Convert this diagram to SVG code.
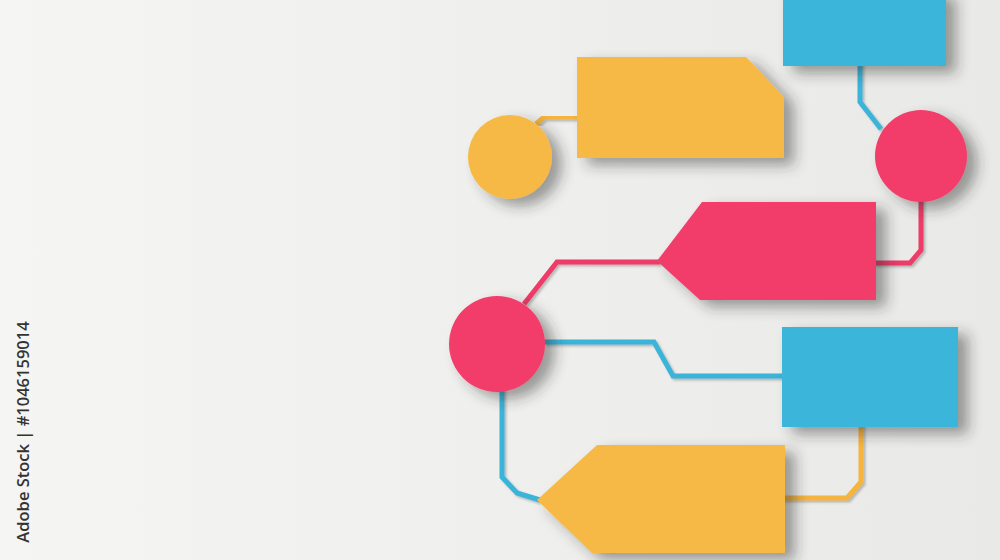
<svg xmlns="http://www.w3.org/2000/svg" width="1000" height="560" viewBox="0 0 1000 560">
  <defs>
    <linearGradient id="bg" x1="0" y1="0" x2="1" y2="0">
      <stop offset="0" stop-color="#F5F5F3"/>
      <stop offset="1" stop-color="#E9E9E7"/>
    </linearGradient>
    <filter id="sh" x="-20%" y="-20%" width="160%" height="160%">
      <feDropShadow dx="10" dy="7" stdDeviation="7" flood-color="#2e2e2e" flood-opacity="0.45"/>
    </filter>
    <filter id="lsh" x="-10%" y="-10%" width="130%" height="130%">
      <feDropShadow dx="2" dy="2" stdDeviation="1.2" flood-color="#555" flood-opacity="0.35"/>
    </filter>
  </defs>
  <style>
    .y { fill: #F7B944; }
    .p { fill: #F23D6B; }
    .b { fill: #3AB5DA; }
    .node { filter: url(#sh); }
    .c { fill: none; stroke-width: 5; stroke-linejoin: miter; filter: url(#lsh); }
    .cy { stroke: #F5B43C; }
    .cp { stroke: #EE3A68; }
    .cb { stroke: #3AB4DA; }
    .id { font-family: "Open Sans", "Liberation Sans", sans-serif; font-size: 16.5px; font-weight: 600; fill: #333; }
  </style>
  <rect width="1000" height="560" fill="url(#bg)"/>

  <g id="connectors">
    <polyline class="c cy" points="536,124 544,117 580,117"/>
    <polyline class="c cb" points="860,62 860,102 881,129"/>
    <polyline class="c cp" points="780,151 878,151"/>
    <polyline class="c cp" points="921,198 921,250 910,263 874,263"/>
    <polyline class="c cp" points="660,262 557,262 524,304"/>
    <polyline class="c cb" points="544,342 654,342 673,376 786,376"/>
    <polyline class="c cy" points="861,424 861,482 847,498 780,498"/>
    <polyline class="c cb" points="502,388 502,477 517,493 540,500"/>
  </g>

  <g id="node-blue-top" class="node">
    <rect class="b" x="783" y="-10" width="163" height="76"/>
  </g>
  <g id="node-yellow-circle" class="node">
    <circle class="y" cx="510" cy="157" r="42"/>
  </g>
  <g id="node-yellow-top" class="node">
    <polygon class="y" points="577,57 746,57 784,97 784,158 577,158"/>
  </g>
  <g id="node-pink-circle-top" class="node">
    <circle class="p" cx="921" cy="156" r="46"/>
  </g>
  <g id="node-pink-tag" class="node">
    <polygon class="p" points="702,202 876,202 876,300 700,300 657,261"/>
  </g>
  <g id="node-pink-circle-left" class="node">
    <circle class="p" cx="497" cy="344" r="48"/>
  </g>
  <g id="node-blue-bottom" class="node">
    <rect class="b" x="782" y="327" width="176" height="100"/>
  </g>
  <g id="node-yellow-tag" class="node">
    <polygon class="y" points="597,445 785,445 785,553 592,553 537,500"/>
  </g>

  <text class="id" x="22" y="432" text-anchor="middle" dominant-baseline="central" transform="rotate(-90 22 432)">Adobe Stock | #1046159014</text>
</svg>
